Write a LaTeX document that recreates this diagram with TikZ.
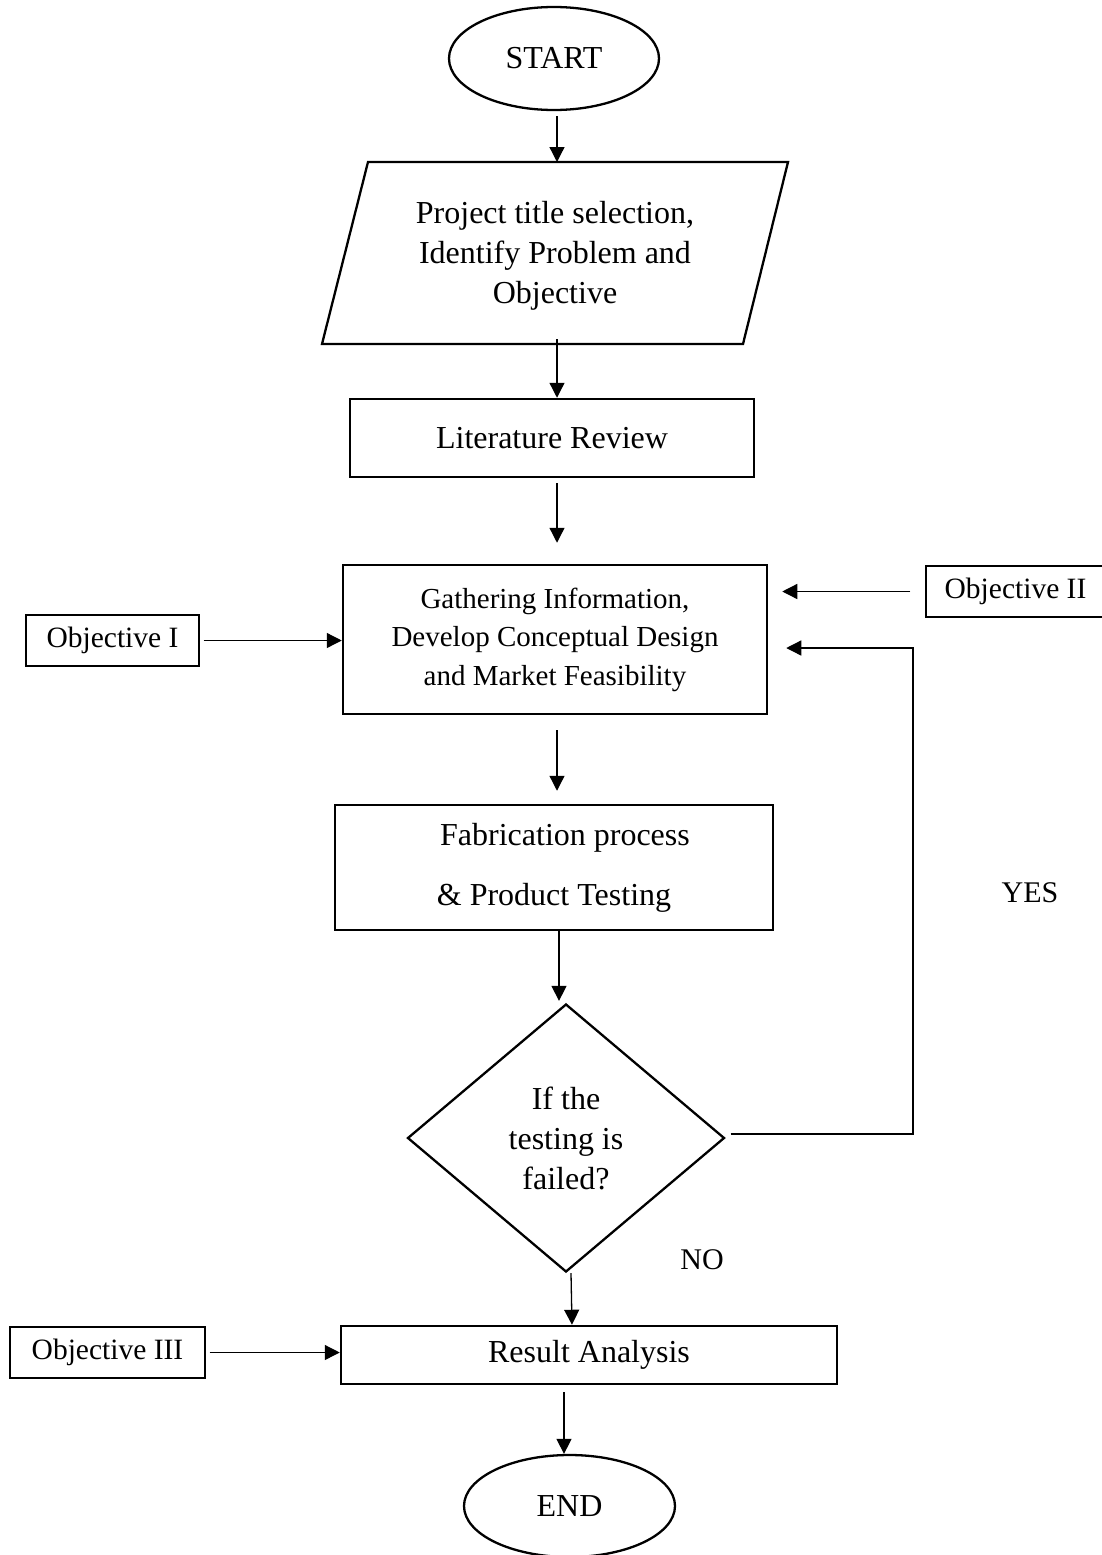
\documentclass[tikz,border=0pt]{standalone}
\usepackage{fontspec}
\setmainfont{Liberation Serif}
\usetikzlibrary{shapes.geometric,arrows.meta}
\begin{document}
\begin{tikzpicture}[x=1pt,y=-1pt,
  box/.style={draw,line width=2.5pt,rectangle,inner sep=0pt,align=center,font=\fontsize{32}{40}\selectfont},
  obj/.style={draw,line width=1.3pt,rectangle,inner sep=0pt,font=\fontsize{29.5}{36}\selectfont},
  oval/.style={draw,ellipse,line width=2.3pt,inner sep=0pt,font=\fontsize{32}{40}\selectfont},
  arr/.style={line width=1.3pt,-{Triangle[length=15pt,width=15pt]}},
  lab/.style={font=\fontsize{30}{36}\selectfont}]
\useasboundingbox (0,0) rectangle (1102,1555);

% main chain
\node[oval,minimum width=210pt,minimum height=103pt] (start) at (554,58.5) {START};

\draw[line width=2.3pt] (368,162) -- (788,162) -- (743,344) -- (322,344) -- cycle;
\node[align=center,inner sep=0pt,font=\fontsize{32}{40}\selectfont] (para) at (555,256)
  {Project title selection,\\Identify Problem and\\Objective};
\coordinate (ptop) at (557,162);
\coordinate (pbot) at (557,344);

\node[box,minimum width=404pt,minimum height=78pt] (lit) at (552,438) {Literature Review};

\node[box,minimum width=424pt,minimum height=149pt,font=\fontsize{29}{38.5}\selectfont] (gath) at (555,639.5)
  {Gathering Information,\\Develop Conceptual Design\\and Market Feasibility};

\node[box,minimum width=438pt,minimum height=125pt,font=\fontsize{32}{60}\selectfont] (fab) at (554,867.5)
  {\hspace*{22pt}Fabrication process\\\& Product Testing};

\node[draw,diamond,aspect=1.19,minimum width=317pt,minimum height=268pt,line width=2.3pt,inner sep=0pt,
  align=center,font=\fontsize{32}{40}\selectfont] (dia) at (566,1138) {If the\\testing is\\failed?};

\node[box,minimum width=496pt,minimum height=58pt] (res) at (589,1355) {Result Analysis};

\node[oval,minimum width=211pt,minimum height=102pt] (end) at (569.5,1506) {END};

% objectives
\node[obj,minimum width=173pt,minimum height=51pt] (o1) at (112.5,640.5) {Objective I};
\node[obj,minimum width=179pt,minimum height=51pt] (o2) at (1015.5,591.5) {Objective II};
\node[obj,minimum width=195pt,minimum height=51pt] (o3) at (107.5,1352.5) {Objective III};

% labels
\node[lab] (yes) at (1030,893) {YES};
\node[lab] (no) at (702,1260) {NO};

% connectors
\draw[arr] ([xshift=3pt,yshift=-5pt]start.south) -- (ptop);
\draw[arr] ([yshift=5pt]pbot) -- (lit.north -| pbot);
\draw[arr,shorten <=5pt,shorten >=21pt] (lit.south -| pbot) -- (gath.north -| pbot);
\draw[arr,shorten <=15pt,shorten >=13pt] (gath.south -| pbot) -- (fab.north -| pbot);
\draw[arr] ([xshift=5pt]fab.south) -- ([xshift=-7pt,yshift=2pt]dia.north);
\draw[arr] ([xshift=5pt]dia.south) -- ([xshift=-17pt]res.north);
\draw[arr,shorten <=7pt] ([xshift=-25pt]res.south) -- ([xshift=-5.5pt]end.north);

\draw[arr,shorten <=4pt] (o1.east) -- (o1.east -| gath.west);
\draw[arr,shorten <=15pt,shorten >=14pt] (o2.west) -- (o2.west -| gath.east);
\draw[arr,shorten <=4pt] (o3.east) -- (o3.east -| res.west);

\coordinate (fbc) at (913,648);
\draw[line width=1.3pt,-{Triangle[length=15pt,width=15pt]}] ([xshift=5pt,yshift=4pt]dia.east) -| (fbc) -- ([xshift=18pt,yshift=-8.5pt]gath.east);
\end{tikzpicture}
\end{document}
